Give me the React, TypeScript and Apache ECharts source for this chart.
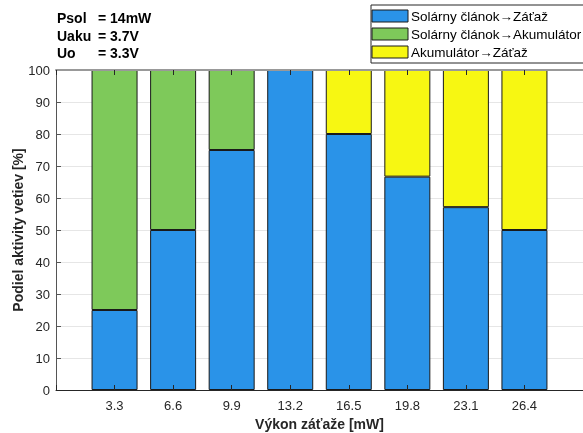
import React, { useEffect, useRef } from "react";
import * as echarts from "echarts";

const categories = ["3.3", "6.6", "9.9", "13.2", "16.5", "19.8", "23.1", "26.4"];
const solarToLoad = [25, 50, 75, 100, 80, 66.67, 57.14, 50];
const solarToBattery = [75, 50, 25, 0, 0, 0, 0, 0];
const batteryToLoad = [0, 0, 0, 0, 20, 33.33, 42.86, 50];
const seriesNames = ["Solárny článok→Záťaž", "Solárny článok→Akumulátor", "Akumulátor→Záťaž"];
const seriesColors = ["#2a93e8", "#7ec95a", "#f7f712"];
const infoLabels = ["Psol", "Uaku", "Uo"];
const infoValues = ["= 14mW", "= 3.7V", "= 3.3V"];

export default function App() {
  const ref = useRef<HTMLDivElement>(null);
  useEffect(() => {
    if (!ref.current) return;
    const chart = echarts.init(ref.current, null, { renderer: "svg" });
    // padded axis: one empty slot at each end (axis spans 0 .. 29.7 mW)
    const axisData = ["", ...categories, ""];
    const mk = (vals: number[]) => ["-", ...vals.map((v) => (v === 0 ? "-" : v)), "-"];
    const all = [solarToLoad, solarToBattery, batteryToLoad];
    const font = "'Liberation Sans', Arial, sans-serif";

    const graphic: any[] = [];
    infoLabels.forEach((l, i) => {
      graphic.push({
        type: "text", x: 57, y: 18 + i * 17.5,
        style: { text: l, font: `bold 14px ${font}`, fill: "#000", verticalAlign: "middle" },
      });
      graphic.push({
        type: "text", x: 98, y: 18 + i * 17.5,
        style: { text: infoValues[i], font: `bold 14px ${font}`, fill: "#000", verticalAlign: "middle" },
      });
    });
    graphic.push({
      type: "rect", shape: { x: 371, y: 5, width: 240, height: 58 },
      style: { fill: "#fff", stroke: "#262626", lineWidth: 1 }, z: 100,
    });
    seriesNames.forEach((n, i) => {
      graphic.push({
        type: "rect", shape: { x: 372, y: 10 + i * 18, width: 36, height: 12 },
        style: { fill: seriesColors[i], stroke: "#1a1a1a", lineWidth: 1 }, z: 101,
      });
      graphic.push({
        type: "text", x: 411, y: 16 + i * 18, z: 101,
        style: { text: n, font: `13.5px ${font}`, fill: "#000", verticalAlign: "middle" },
      });
    });

    chart.setOption({
      animation: false,
      textStyle: { fontFamily: font },
      grid: { left: 56, right: 0, top: 70, bottom: 43, containLabel: false, outerBoundsMode: "none" },
      xAxis: [
        {
          type: "category", data: axisData, boundaryGap: false,
          name: "Výkon záťaže [mW]", nameLocation: "middle", nameGap: 27,
          nameTextStyle: { fontWeight: "bold", fontSize: 14, color: "#262626" },
          axisLine: { show: true, lineStyle: { color: "#262626" } },
          axisTick: { show: true, inside: true, length: 5, lineStyle: { color: "#262626" } },
          axisLabel: { fontSize: 13, color: "#262626", margin: 9, interval: 0 },
          splitLine: { show: false },
          z: 10,
        },
        {
          type: "category", data: axisData, boundaryGap: false, position: "top",
          axisLine: { show: true, lineStyle: { color: "#999", width: 2 } },
          axisTick: { show: true, inside: true, length: 5, lineStyle: { color: "#262626" } },
          axisLabel: { show: false },
          splitLine: { show: false },
          z: 10,
        },
      ],
      yAxis: {
        type: "value", min: 0, max: 100, interval: 10,
        name: "Podiel aktivity vetiev [%]", nameLocation: "middle", nameGap: 31,
        nameMoveOverlap: false,
        nameTextStyle: { fontWeight: "bold", fontSize: 14, color: "#262626" },
        axisLine: { show: true, lineStyle: { color: "#555" } },
        axisTick: { show: true, inside: true, length: 5, lineStyle: { color: "#555" } },
        axisLabel: { fontSize: 13, color: "#262626", margin: 6 },
        splitLine: { show: true, lineStyle: { color: "#e6e6e6" } },
      },
      graphic,
      series: all.map((vals, i) => ({
        type: "bar", name: seriesNames[i], stack: "total", barWidth: 46,
        data: mk(vals),
        itemStyle: { color: seriesColors[i], borderColor: "#1a1a1a", borderWidth: 1 },
      })),
    });
    return () => chart.dispose();
  }, []);
  return (
    <div ref={ref} style={{ position: "fixed", left: 0, top: 0, width: 583, height: 433 }} />
  );
}
